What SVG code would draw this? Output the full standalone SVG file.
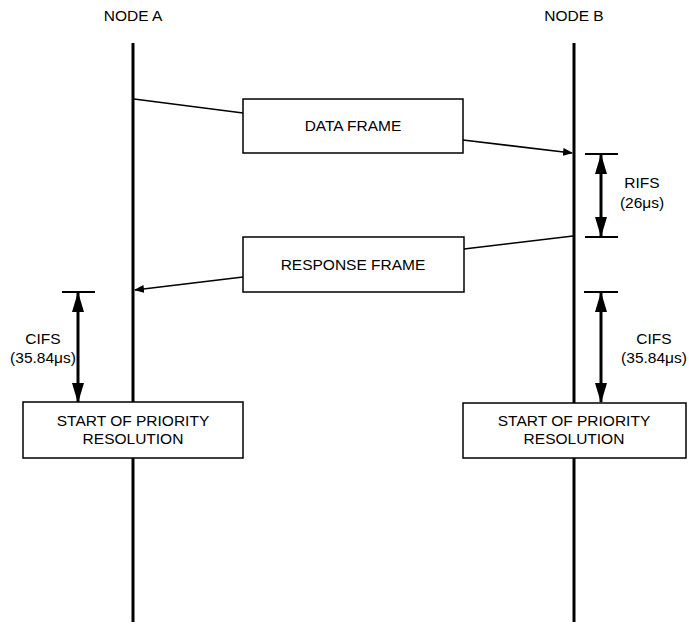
<svg xmlns="http://www.w3.org/2000/svg" width="689" height="624" viewBox="0 0 689 624">
<style>
text{font-family:"Liberation Sans",Arial,sans-serif;font-size:15.5px;fill:#000;text-anchor:middle}
.life{stroke:#000;stroke-width:3;fill:none}
.box{fill:#fff;stroke:#000;stroke-width:1.5}
.msg{stroke:#000;stroke-width:1.6;fill:none}
.dim{stroke:#000;stroke-width:3;fill:none}
.tick{stroke:#000;stroke-width:2.2}
</style>
<defs>
<marker id="ah" markerWidth="10" markerHeight="8" refX="9" refY="4" orient="auto" markerUnits="userSpaceOnUse">
<path d="M0,0 L10,4 L0,8 Z" fill="#000"/>
</marker>
<marker id="dh" markerWidth="20" markerHeight="12" refX="19" refY="6" orient="auto" markerUnits="userSpaceOnUse" viewBox="0 0 20 12">
<path d="M0,0 L20,6 L0,12 Z" fill="#000"/>
</marker>
</defs>
<g id="nodeA">
<text x="133" y="21">NODE A</text>
<line class="life" x1="133" y1="43" x2="133" y2="622"/>
</g>
<g id="nodeB">
<text x="574" y="21">NODE B</text>
<line class="life" x1="574" y1="43" x2="574" y2="622"/>
</g>
<g id="connectors">
<polyline class="msg" points="134,99 243,113"/>
<polyline class="msg" points="463,140 572,153" marker-end="url(#ah)"/>
<polyline class="msg" points="573,236 464,249"/>
<polyline class="msg" points="243,277 135,290" marker-end="url(#ah)"/>
<line class="tick" x1="585" y1="154" x2="618" y2="154"/>
<line class="tick" x1="585" y1="237" x2="618" y2="237"/>
<line class="dim" x1="601" y1="196" x2="601" y2="155" marker-end="url(#dh)"/>
<line class="dim" x1="601" y1="196" x2="601" y2="236" marker-end="url(#dh)"/>
<line class="tick" x1="62" y1="292" x2="95" y2="292"/>
<line class="dim" x1="78" y1="347" x2="78" y2="293" marker-end="url(#dh)"/>
<line class="dim" x1="78" y1="347" x2="78" y2="402" marker-end="url(#dh)"/>
<line class="tick" x1="584" y1="292" x2="618" y2="292"/>
<line class="dim" x1="601" y1="347" x2="601" y2="293" marker-end="url(#dh)"/>
<line class="dim" x1="601" y1="347" x2="601" y2="402" marker-end="url(#dh)"/>
</g>
<g id="dataFrame">
<rect class="box" x="243" y="99" width="220" height="54"/>
<text x="353" y="131">DATA FRAME</text>
</g>
<g id="responseFrame">
<rect class="box" x="243" y="237" width="221" height="55"/>
<text x="353" y="270">RESPONSE FRAME</text>
</g>
<g id="rifs">
<text x="642" y="188">RIFS</text>
<text x="642" y="208">(26μs)</text>
</g>
<g id="cifsA">
<text x="43" y="344">CIFS</text>
<text x="43" y="363">(35.84μs)</text>
</g>
<g id="cifsB">
<text x="654" y="344">CIFS</text>
<text x="654" y="363">(35.84μs)</text>
</g>
<g id="startA">
<rect class="box" x="23" y="402" width="220" height="56"/>
<text x="133" y="426">START OF PRIORITY</text>
<text x="133" y="444">RESOLUTION</text>
</g>
<g id="startB">
<rect class="box" x="463" y="403" width="223" height="55"/>
<text x="574" y="426">START OF PRIORITY</text>
<text x="574" y="444">RESOLUTION</text>
</g>
</svg>
